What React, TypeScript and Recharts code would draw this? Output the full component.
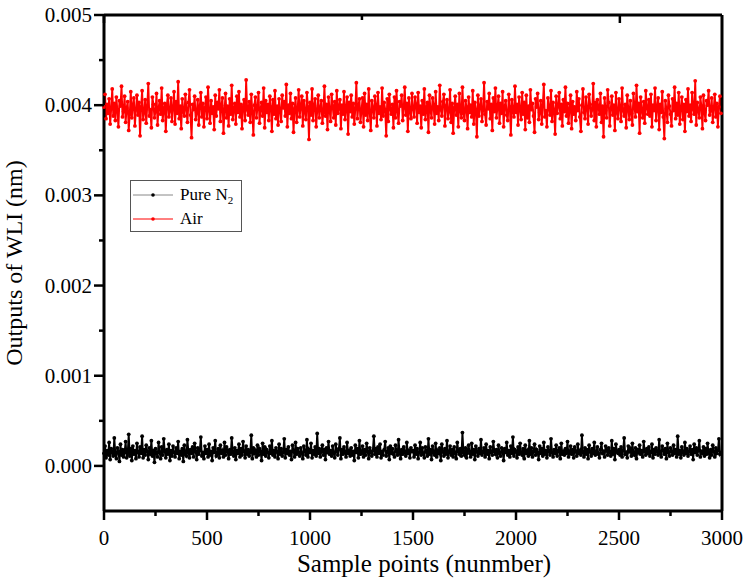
import React from 'react';
import { LineChart, Line, XAxis, YAxis, Legend, Label } from 'recharts';

// sample index step between the points
const STEP = 5;

// outputs in units of 1e-5 nm
const n2Values = [
  14, 22, 9, 17, 12, 26, 7, 19, 15, 11,
  31, 13, 8, 20, 16, 5, 24, 12, 18, 10,
  15, 27, 9, 14, 35, 11, 19, 6, 22, 13,
  17, 8, 25, 15, 10, 21, 14, 33, 9, 18,
  12, 23, 16, 7, 20, 13, 28, 11, 17, 4,
  19, 14, 10, 26, 15, 8, 21, 12, 30, 16,
  9, 18, 13, 24, 6, 17, 11, 22, 15, 10,
  20, 14, 27, 8, 16, 12, 19, 5, 23, 13,
  11, 29, 15, 9, 18, 14, 21, 10, 25, 16,
  7, 20, 13, 17, 32, 11, 15, 8, 22, 14,
  18, 10, 24, 12, 16, 6, 20, 15, 28, 11,
  13, 19, 9, 23, 14, 17, 10, 26, 12, 21,
  16, 8, 18, 13, 31, 15, 11, 20, 7, 17,
  14, 24, 10, 19, 12, 27, 16, 9, 22, 13,
  18, 11, 15, 34, 8, 20, 14, 17, 10, 23,
  12, 19, 16, 6, 25, 13, 21, 11, 18, 15,
  9, 22, 14, 28, 12, 17, 10, 20, 16, 8,
  24, 13, 19, 11, 15, 30, 9, 18, 14, 21,
  12, 16, 7, 23, 17, 10, 26, 13, 19, 15,
  11, 20, 14, 8, 22, 16, 12, 29, 10, 18,
  15, 25, 9, 17, 13, 21, 11, 36, 14, 19,
  10, 16, 23, 12, 18, 7, 20, 15, 27, 13,
  17, 11, 22, 14, 9, 24, 16, 12, 19, 31,
  8, 18, 13, 21, 15, 10, 26, 14, 17, 11,
  20, 12, 16, 6, 23, 15, 19, 9, 28, 13,
  14, 22, 10, 18, 12, 25, 16, 8, 20, 15,
  11, 17, 33, 13, 19, 10, 21, 14, 24, 9,
  16, 12, 18, 27, 11, 15, 20, 7, 22, 14,
  19, 13, 10, 23, 16, 12, 29, 15, 8, 18,
  13, 21, 15, 11, 26, 14, 17, 9, 20, 16,
  17, 10, 23, 13, 19, 8, 15, 26, 12, 20,
  14, 9, 21, 16, 11, 30, 13, 18, 7, 22,
  15, 12, 25, 10, 17, 14, 20, 6, 24, 16,
  11, 19, 13, 28, 9, 15, 22, 12, 18, 10,
  21, 14, 8, 26, 16, 13, 19, 11, 37, 15,
  12, 20, 9, 17, 23, 14, 10, 25, 13, 18,
  7, 22, 16, 11, 19, 14, 29, 12, 15, 20,
  10, 24, 13, 17, 8, 21, 15, 12, 27, 16,
  13, 18, 9, 23, 14, 11, 20, 16, 6, 19,
  15, 26, 12, 17, 10, 22, 14, 32, 11, 18,
  16, 9, 21, 13, 25, 15, 12, 19, 8, 23,
  14, 17, 11, 28, 13, 20, 10, 16, 24, 12,
  18, 15, 7, 22, 14, 19, 11, 26, 13, 17,
  9, 21, 16, 12, 30, 15, 10, 18, 14, 23,
  11, 17, 20, 8, 25, 13, 16, 12, 19, 14,
  27, 10, 15, 22, 13, 18, 9, 21, 16, 11,
  24, 14, 17, 12, 34, 15, 10, 20, 13, 18,
  8, 23, 16, 11, 19, 14, 26, 12, 15, 21,
  13, 9, 18, 25, 14, 16, 10, 22, 17, 12,
  20, 15, 11, 28, 13, 19, 7, 24, 16, 14,
  18, 12, 21, 10, 17, 31, 13, 15, 9, 22,
  16, 19, 11, 25, 14, 12, 20, 8, 18, 15,
  23, 13, 17, 10, 27, 16, 12, 19, 14, 21,
  11, 15, 24, 9, 18, 13, 20, 16, 12, 29,
  14, 10, 22, 17, 13, 19, 8, 25, 15, 11,
  20, 16, 12, 23, 14, 18, 10, 33, 13, 17,
  9, 21, 15, 12, 26, 14, 19, 11, 16, 22,
  13, 18, 7, 24, 15, 20, 12, 17, 28, 10,
  16, 14, 21, 11, 19, 13, 25, 15, 9, 18,
  12, 23, 16, 10, 20, 14, 17, 30, 13, 15,
];

const airValues = [
  398, 412, 385, 401, 391, 407, 379, 396, 418, 388,
  402, 383, 409, 394, 376, 405, 399, 421, 387, 393,
  410, 381, 397, 404, 372, 390, 415, 386, 400, 408,
  377, 395, 411, 389, 403, 366, 398, 416, 384, 392,
  406, 380, 399, 424, 388, 395, 375, 409, 401, 386,
  393, 413, 378, 397, 405, 390, 419, 383, 396, 402,
  371, 400, 411, 387, 394, 408, 382, 398, 415, 379,
  404, 391, 426, 385, 399, 374, 407, 393, 388, 412,
  396, 381, 403, 417, 389, 364, 401, 395, 410, 384,
  392, 406, 378, 399, 414, 387, 402, 376, 397, 409,
  385, 420, 394, 380, 405, 391, 398, 373, 411, 388,
  403, 396, 417, 382, 400, 408, 369, 394, 413, 386,
  399, 377, 407, 390, 422, 384, 396, 402, 379, 410,
  392, 415, 387, 401, 374, 398, 406, 383, 428, 395,
  389, 404, 381, 412, 393, 367, 400, 409, 386, 397,
  414, 380, 396, 403, 388, 419, 375, 405, 392, 401,
  383, 410, 398, 371, 406, 390, 416, 385, 399, 378,
  407, 394, 382, 411, 397, 404, 388, 423, 376, 400,
  391, 413, 385, 402, 370, 396, 408, 381, 395, 417,
  387, 399, 410, 377, 405, 393, 384, 414, 398, 362,
  403, 389, 418, 383, 400, 407, 376, 394, 411, 386,
  397, 405, 380, 392, 421, 388, 401, 373, 409, 395,
  382, 412, 399, 386, 404, 378, 416, 391, 398, 406,
  374, 400, 390, 415, 384, 397, 409, 368, 403, 393,
  411, 387, 402, 379, 396, 425, 385, 399, 407, 381,
  394, 408, 376, 413, 389, 401, 383, 418, 392, 372,
  405, 397, 386, 410, 400, 377, 414, 391, 398, 384,
  419, 388, 403, 395, 366, 407, 382, 412, 396, 390,
  401, 375, 409, 386, 416, 393, 380, 404, 399, 411,
  383, 397, 420, 389, 402, 371, 408, 394, 385, 413,
  396, 387, 409, 401, 380, 414, 392, 399, 375, 405,
  390, 418, 384, 397, 403, 370, 411, 394, 386, 408,
  400, 379, 415, 391, 398, 383, 422, 395, 388, 404,
  412, 377, 399, 406, 385, 393, 417, 381, 402, 369,
  397, 410, 389, 401, 376, 413, 394, 386, 420, 391,
  383, 405, 398, 374, 409, 392, 400, 387, 416, 379,
  403, 395, 365, 411, 388, 399, 407, 382, 394, 425,
  390, 378, 404, 396, 413, 385, 401, 372, 408, 393,
  419, 386, 397, 410, 380, 402, 391, 415, 376, 399,
  405, 389, 383, 412, 398, 367, 406, 394, 387, 421,
  392, 401, 378, 409, 396, 384, 414, 390, 403, 373,
  411, 386, 399, 381, 417, 395, 402, 388, 370, 407,
  398, 413, 384, 392, 405, 379, 400, 423, 387, 394,
  376, 408, 397, 389, 416, 382, 403, 395, 368, 410,
  391, 399, 414, 385, 401, 377, 406, 393, 420, 388,
  402, 380, 396, 411, 374, 404, 390, 398, 383, 415,
  394, 407, 387, 371, 400, 418, 392, 385, 409, 397,
  379, 412, 401, 388, 395, 424, 383, 403, 376, 406,
  398, 390, 413, 381, 399, 365, 408, 394, 386, 417,
  403, 377, 396, 410, 389, 400, 372, 414, 392, 385,
  407, 398, 382, 419, 394, 388, 401, 375, 411, 396,
  384, 405, 391, 378, 413, 399, 387, 422, 393, 402,
  369, 409, 395, 386, 404, 380, 416, 397, 390, 406,
  388, 412, 376, 400, 394, 419, 383, 398, 408, 373,
  401, 392, 415, 387, 363, 405, 396, 381, 411, 399,
  390, 377, 407, 394, 420, 385, 402, 389, 414, 379,
  397, 409, 384, 401, 371, 406, 393, 418, 388, 400,
  382, 414, 396, 390, 427, 378, 403, 395, 386, 409,
  399, 374, 411, 392, 383, 405, 400, 416, 389, 394,
  408, 381, 397, 412, 387, 402, 376, 398, 410, 391,
];

const X_TICKS = [0, 250, 500, 750, 1000, 1250, 1500, 1750, 2000, 2250, 2500, 2750, 3000];
const Y_TICKS = [0, 0.0005, 0.001, 0.0015, 0.002, 0.0025, 0.003, 0.0035, 0.004, 0.0045, 0.005];

const data = n2Values.map((v, i) => ({
  x: i * STEP,
  n2: v * 1e-5,
  air: airValues[i] * 1e-5,
}));

const FONT = "'Liberation Serif', 'Times New Roman', Times, serif";

const isMajorX = (v: number) => v % 500 === 0;
const isMajorY = (v: number) => Math.round(v * 10000) % 10 === 0;

function BottomTick(props: any) {
  const { x, y, payload } = props;
  const major = isMajorX(payload.value);
  return (
    <g>
      <line x1={x} x2={x} y1={y} y2={y + (major ? 9 : 5)} stroke="#000" strokeWidth={2.5} />
      {major && (
        <text x={x} y={y + 34} textAnchor="middle" style={{ fontSize: 21, fontFamily: FONT }} fill="#000">
          {payload.value}
        </text>
      )}
    </g>
  );
}

function TopTick(props: any) {
  const { x, y, payload } = props;
  const major = isMajorX(payload.value);
  return <line x1={x} x2={x} y1={y} y2={y + (major ? 8 : 5)} stroke="#000" strokeWidth={2.5} />;
}

function LeftTick(props: any) {
  const { x, y, payload } = props;
  const major = isMajorY(payload.value);
  return (
    <g>
      <line x1={x} x2={x - (major ? 10 : 5)} y1={y} y2={y} stroke="#000" strokeWidth={2.5} />
      {major && (
        <text x={x - 12} y={y + 7} textAnchor="end" style={{ fontSize: 21, fontFamily: FONT }} fill="#000">
          {payload.value.toFixed(3)}
        </text>
      )}
    </g>
  );
}

function RightTick(props: any) {
  const { x, y, payload } = props;
  const major = isMajorY(payload.value);
  return <line x1={x} x2={x - (major ? 8 : 5)} y1={y} y2={y} stroke="#000" strokeWidth={2.5} />;
}

function LegendBox() {
  const rows = [
    { color: '#000', line: '#888', label: <>Pure N<tspan style={{ fontSize: 11 }} dy={4}>2</tspan></> },
    { color: '#ff0000', line: '#ff0000', label: <>Air</> },
  ];
  return (
    <div style={{ border: '1px solid #555', width: 112, height: 52, boxSizing: 'border-box', background: '#fff' }}>
      {rows.map((r, i) => (
        <svg key={i} width={110} height={24} style={{ display: 'block', marginTop: i === 0 ? 2 : 0 }}>
          <line x1={2} x2={42} y1={12} y2={12} stroke={r.line} strokeWidth={1} />
          <circle cx={22} cy={12} r={1.8} fill={r.color} />
          <text x={49} y={17} style={{ fontSize: 17, fontFamily: FONT }} fill="#000">
            {r.label}
          </text>
        </svg>
      ))}
    </div>
  );
}

export default function App() {
  return (
    <div style={{ position: 'absolute', left: 0, top: 0, background: '#fff', fontFamily: FONT }}>
      <LineChart width={750} height={579} data={data} margin={{ top: 14, right: 27, bottom: 0, left: 0 }}>
        <XAxis
          dataKey="x"
          type="number"
          domain={[0, 3000]}
          ticks={X_TICKS}
          interval={0}
          height={68}
          tickSize={0}
          tickMargin={0}
          tickLine={false}
          tick={(p: any) => <BottomTick {...p} />}
          axisLine={{ stroke: '#000', strokeWidth: 3 }}
        >
          <Label
            value="Sample points (nunmber)"
            position="insideBottom"
            offset={7}
            dx={11}
            style={{ fontSize: 25, fontFamily: FONT, fill: '#000' }}
          />
        </XAxis>
        <XAxis
          xAxisId="top"
          orientation="top"
          type="number"
          domain={[0, 3000]}
          ticks={X_TICKS}
          interval={0}
          height={1}
          tickSize={0}
          tickMargin={0}
          tickLine={false}
          tick={(p: any) => <TopTick {...p} />}
          axisLine={{ stroke: '#000', strokeWidth: 3 }}
        />
        <YAxis
          type="number"
          domain={[-0.0005, 0.005]}
          ticks={Y_TICKS}
          interval={0}
          width={104}
          tickSize={0}
          tickMargin={0}
          tickLine={false}
          tick={(p: any) => <LeftTick {...p} />}
          axisLine={{ stroke: '#000', strokeWidth: 3 }}
        >
          <Label
            value="Outputs of WLI (nm)"
            angle={-90}
            position="insideLeft"
            offset={13}
            style={{ fontSize: 24, fontFamily: FONT, fill: '#000', textAnchor: 'middle' }}
          />
        </YAxis>
        <YAxis
          yAxisId="right"
          orientation="right"
          type="number"
          domain={[-0.0005, 0.005]}
          ticks={Y_TICKS}
          interval={0}
          width={1}
          tickSize={0}
          tickMargin={0}
          tickLine={false}
          tick={(p: any) => <RightTick {...p} />}
          axisLine={{ stroke: '#000', strokeWidth: 3 }}
        />
        <Legend
          layout="vertical"
          align="center"
          verticalAlign="middle"
          wrapperStyle={{ left: 130, top: 180, width: 112 }}
          content={() => <LegendBox />}
        />
        <Line
          dataKey="n2"
          name="Pure N2"
          stroke="#000"
          strokeWidth={1.9}
          dot={{ r: 1.9, fill: '#000', stroke: 'none' }}
          isAnimationActive={false}
        />
        <Line
          dataKey="air"
          name="Air"
          stroke="#ff0000"
          strokeWidth={1.9}
          dot={{ r: 1.9, fill: '#ff0000', stroke: 'none' }}
          isAnimationActive={false}
        />
      </LineChart>
    </div>
  );
}
